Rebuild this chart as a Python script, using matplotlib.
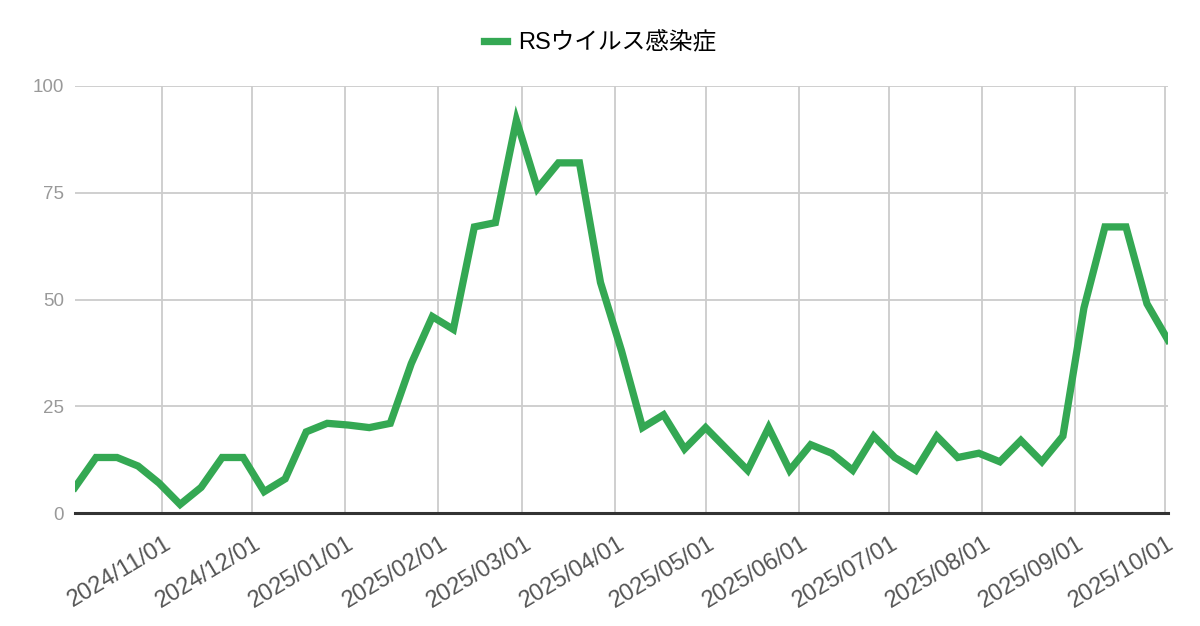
import matplotlib
matplotlib.use("Agg")
import matplotlib.pyplot as plt
import matplotlib.dates as mdates
from matplotlib.transforms import ScaledTranslation
import pandas as pd

plt.rcParams['font.family'] = ['Liberation Sans', 'Noto Sans CJK JP', 'DejaVu Sans']

series_name = "RSウイルス感染症"
dates = pd.date_range("2024-10-03", periods=53, freq="7D")
values = [6, 13, 13, 11, 7, 2, 6, 13, 13, 5, 8, 19, 21, 20.6, 20, 21,
          35, 46, 43, 67, 68, 92, 76, 82, 82, 54, 38, 20, 23, 15, 20, 15,
          10, 20, 10, 16, 14, 10, 18, 13, 10, 18, 13, 14, 12, 17, 12, 18,
          48, 67, 67, 49, 40.5]
tick_dates = pd.date_range("2024-11-01", "2025-10-01", freq="MS")
y_ticks = [0, 25, 50, 75, 100]

fig = plt.figure(figsize=(12, 6.26), dpi=100)
ax = fig.add_axes([75 / 1200, 1 - 513 / 626, 1093 / 1200, 427 / 626])

ax.plot(dates, values, color="#34a853", lw=5.25, solid_joinstyle="miter",
        label=series_name, zorder=3)

ax.set_xlim(dates[0], dates[-1])
ax.set_ylim(0, 100)
ax.set_yticks(y_ticks)
ax.set_xticks(tick_dates)
ax.xaxis.set_major_formatter(mdates.DateFormatter("%Y/%m/%d"))

ax.grid(True, color="#cccccc", lw=1.3)
ax.set_axisbelow(True)
for s in ["top", "right", "left"]:
    ax.spines[s].set_visible(False)
ax.spines["bottom"].set_color("#333333")
ax.spines["bottom"].set_linewidth(2.2)
ax.spines["bottom"].set_zorder(4)

ax.tick_params(axis="y", length=0, pad=8, labelsize=13.5, labelcolor="#999999")
ax.tick_params(axis="x", length=0, pad=14, labelsize=17, labelcolor="#555555")
for lab in ax.get_xticklabels():
    lab.set_rotation(31)
    lab.set_ha("right")
    lab.set_transform(lab.get_transform() + ScaledTranslation(13 / 100, 0, fig.dpi_scale_trans))

fig.legend(loc="center", bbox_to_anchor=(0.5, 1 - 43 / 626), frameon=False,
           fontsize=17, handlelength=1.0, handletextpad=0.45)

fig.savefig("out.png", dpi=100, facecolor="white")
